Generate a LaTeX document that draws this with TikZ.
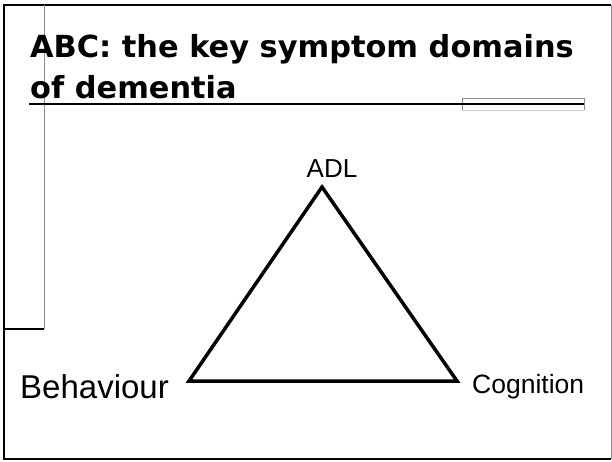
\documentclass[tikz,border=0pt]{standalone}
\usepackage{fontspec}
\setmainfont{Liberation Sans}
\newfontfamily\titlefont{DejaVu Sans}
\begin{document}
\begin{tikzpicture}[x=1pt,y=-1pt,
  frame/.style={line width=2.5pt,black},
  rule/.style={line width=2.5pt,black},
  guide/.style={line width=0.8pt,black!45},
  edge/.style={line width=3.5pt,line join=miter},
  titletext/.style={inner sep=0pt,anchor=base west,font=\titlefont\bfseries\fontsize{30.4}{36}\selectfont},
  vertex/.style={inner sep=0pt}]
\useasboundingbox (0,0) rectangle (612,461);
\fill[white] (0,0) rectangle (612,461);

% slide frame
\draw[frame] (611,459) -- (4,459) -- (4,5) -- (611,5);
\draw[guide] (611,5) -- (611,459);

% layout guides on the left
\draw[guide] (44,5) -- (44,329);
\draw[rule] (4,329) -- (44,329);

% title
\node[titletext] (title1) at (30,57) {ABC: the key symptom domains};
\node[titletext] (title2) at (30,98) {of dementia};

% title underline with its small box
\draw[black!45,line width=0.8pt] (462,110) -- (462,98) -- (584,98) -- (584,110);
\draw[black!20,line width=1.5pt] (462,110.5) -- (584,110.5);
\draw[rule] (29,104) -- (584,104);

% the three domains
\coordinate (adl) at (322,187);
\coordinate (beh) at (189,381);
\coordinate (cog) at (457,381);
\draw[edge] (adl) -- (beh) -- (cog) -- cycle;

\node[vertex,anchor=base,font=\fontsize{26}{30}\selectfont] (adllabel) at (332,177) {ADL};
\node[vertex,anchor=base west,font=\fontsize{33}{38}\selectfont] (behlabel) at (20,398) {Behaviour};
\node[vertex,anchor=base west,font=\fontsize{26.5}{30}\selectfont] (coglabel) at (472,393) {Cognition};
\end{tikzpicture}
\end{document}
